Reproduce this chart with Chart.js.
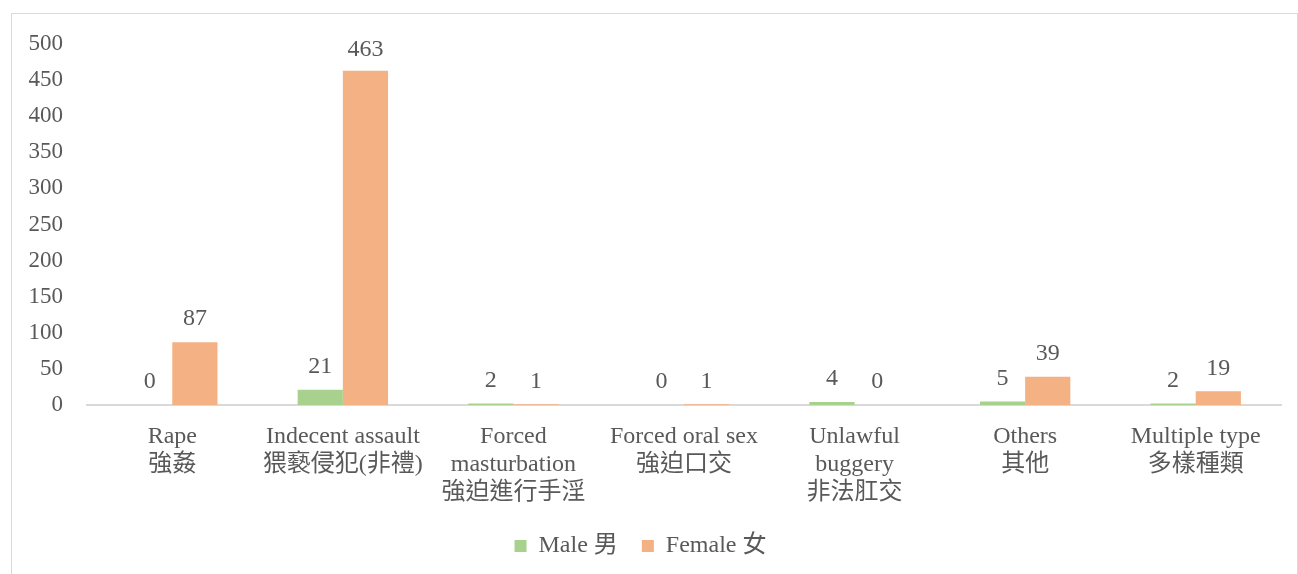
<!DOCTYPE html>
<html>
<head>
<meta charset="utf-8">
<script src="https://cdn.jsdelivr.net/npm/chart.js@4.4.1/dist/chart.umd.min.js"></script>
<style>
  html, body { margin: 0; padding: 0; background: #fff; }
  #frame {
    position: absolute; left: 11px; top: 13px; width: 1285px; height: 600px;
    border: 1px solid #d9d9d9; border-bottom: none;
  }
  #wrap { position: absolute; left: 0; top: 0; width: 1298px; height: 574px; }
</style>
</head>
<body>
<div id="frame"></div>
<div id="wrap"><canvas id="myChart" width="1298" height="574"></canvas></div>
<script>
// categories (two or three lines each)
const categories = [
  ["Rape", "強姦"],
  ["Indecent assault", "猥褻侵犯(非禮)"],
  ["Forced", "masturbation", "強迫進行手淫"],
  ["Forced oral sex", "強迫口交"],
  ["Unlawful", "buggery", "非法肛交"],
  ["Others", "其他"],
  ["Multiple type", "多樣種類"]
];
const maleValues = [0, 21, 2, 0, 4, 5, 2];
const femaleValues = [87, 463, 1, 1, 0, 39, 19];

const FONT = "'Liberation Serif', 'Times New Roman', 'Noto Sans CJK TC', serif";
const TEXT = "#595959";

// value labels above the bars
const valueLabels = {
  id: "valueLabels",
  afterDatasetsDraw(chart) {
    const ctx = chart.ctx;
    const top = chart.chartArea.top;
    ctx.save();
    ctx.font = "24px " + FONT;
    ctx.fillStyle = TEXT;
    ctx.textAlign = "center";
    ctx.textBaseline = "middle";
    chart.data.datasets.forEach((ds, i) => {
      chart.getDatasetMeta(i).data.forEach((bar, j) => {
        const y = Math.max(bar.y - 23, top + 6);
        ctx.fillText(ds.data[j], bar.x, y);
      });
    });
    ctx.restore();
  }
};

const data = {
  labels: categories,
  datasets: [
    { label: "Male 男", data: maleValues, backgroundColor: "#a9d18e" },
    { label: "Female 女", data: femaleValues, backgroundColor: "#f4b183" }
  ]
};

const config = {
  type: "bar",
  data: data,
  plugins: [valueLabels],
  options: {
    responsive: false,
    animation: false,
    layout: { padding: { top: 44, right: 17, bottom: 6, left: 0 } },
    datasets: { bar: { barPercentage: 1, categoryPercentage: 0.53 } },
    plugins: {
      tooltip: { enabled: false },
      legend: {
        position: "bottom",
        labels: {
          boxWidth: 12, boxHeight: 12, padding: 24,
          color: TEXT,
          font: { family: FONT, size: 24 }
        }
      }
    },
    scales: {
      x: {
        grid: { display: false },
        border: { color: "#d9d9d9", width: 2 },
        ticks: {
          color: TEXT, padding: 10, maxRotation: 0, autoSkip: false,
          font: { family: FONT, size: 24, lineHeight: 1.17 }
        },
        afterFit(scale) { scale.height = 105; }
      },
      y: {
        min: 0, max: 500,
        grid: { display: false, drawTicks: false },
        border: { display: false },
        ticks: {
          stepSize: 50, color: TEXT, padding: 24,
          font: { family: FONT, size: 23 }
        },
        afterFit(scale) { scale.width = 87; }
      }
    }
  }
};

const context = document.getElementById("myChart").getContext("2d");
const chart = new Chart(context, config);
</script>
</body>
</html>
